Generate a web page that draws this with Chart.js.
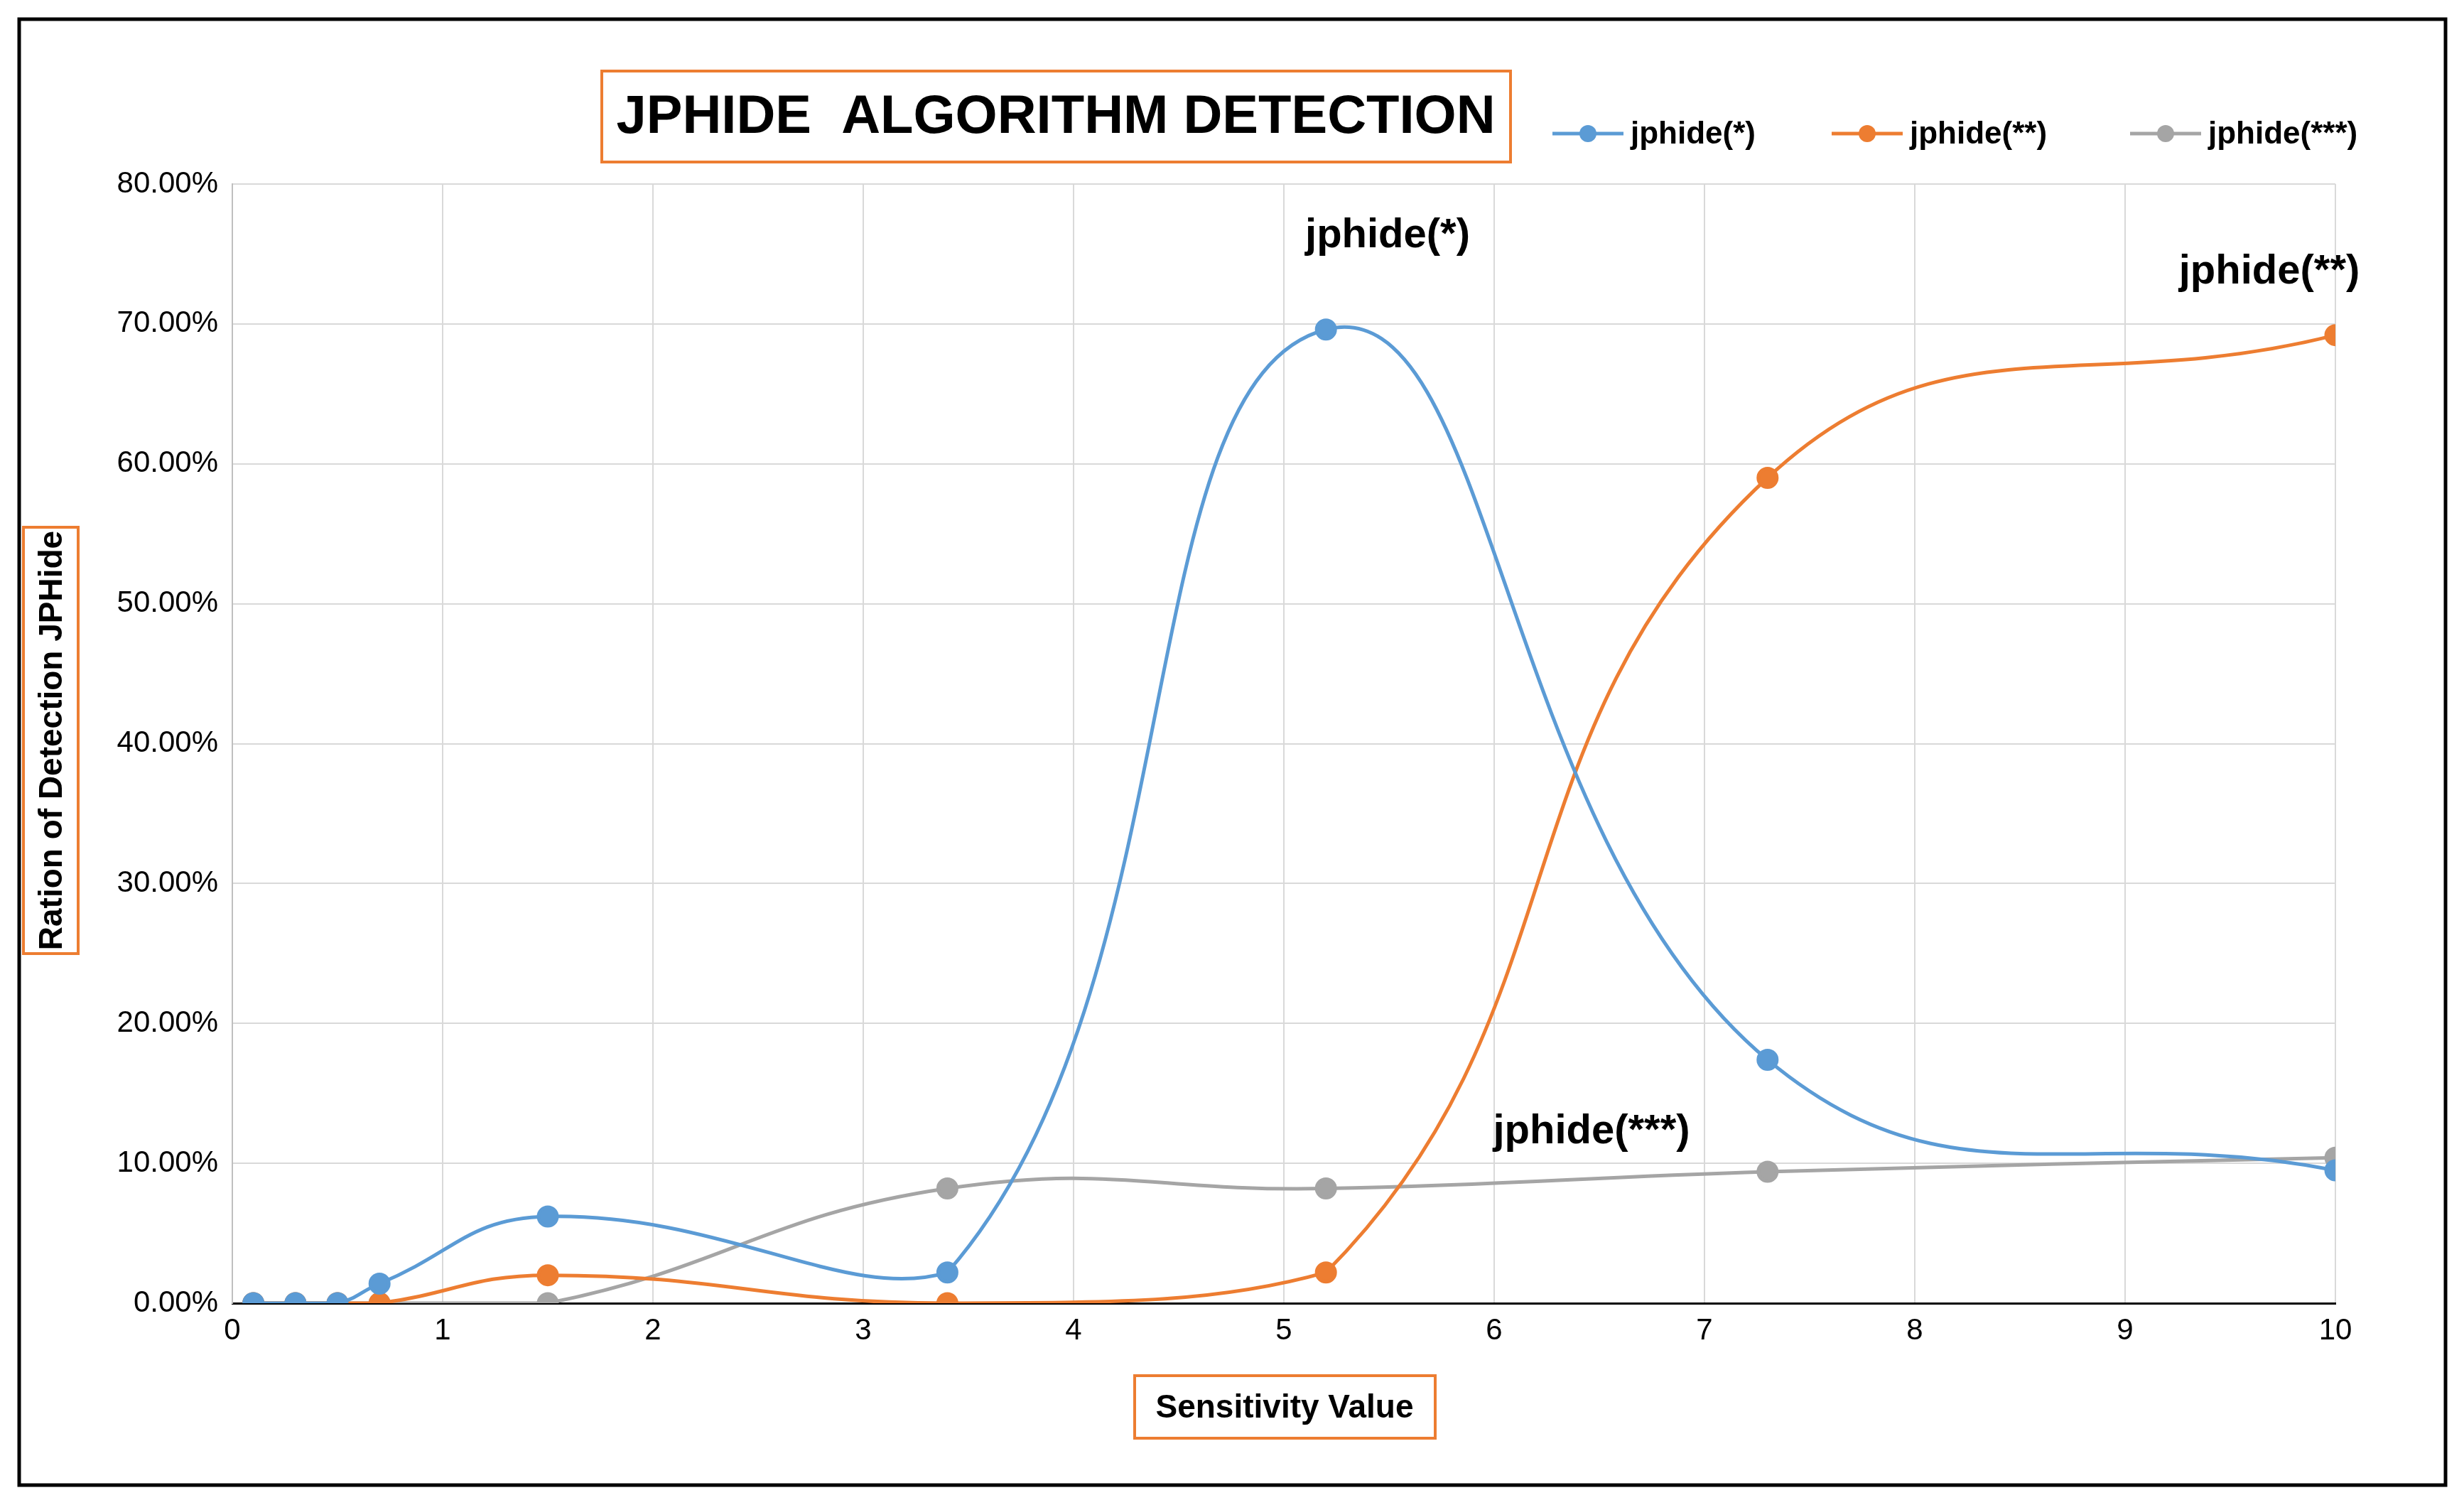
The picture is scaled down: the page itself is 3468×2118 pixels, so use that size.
<!DOCTYPE html>
<html>
<head>
<meta charset="utf-8">
<script src="https://cdn.jsdelivr.net/npm/chart.js@4.4.0/dist/chart.umd.min.js"></script>
<style>
  html, body { margin: 0; padding: 0; background: #fff; }
  #wrap { width: 3468px; height: 2118px; position: relative; }
</style>
</head>
<body>
<div id="wrap"><canvas id="grafico" width="3468" height="2118"></canvas></div>
<script>
// Datos del gráfico
const sensibilidad = [0.1, 0.3, 0.5, 0.7, 1.5, 3.4, 5.2, 7.3, 10];
const jphide1 = [0, 0, 0, 0.014, 0.062, 0.022, 0.696, 0.174, 0.095];
const jphide2 = [0, 0, 0, 0, 0.020, 0, 0.022, 0.590, 0.692];
const jphide3 = [0, 0, 0, 0, 0, 0.082, 0.082, 0.094, 0.104];
const nombres = ['jphide(*)', 'jphide(**)', 'jphide(***)'];
const colores = ['#5b9bd5', '#ed7d31', '#a5a5a5'];
const FONT = '"Liberation Sans", Arial, sans-serif';

function serie(i, valores) {
  return {
    label: nombres[i],
    data: sensibilidad.map((x, k) => ({ x: x, y: valores[k] })),
    borderColor: colores[i],
    backgroundColor: colores[i],
    borderWidth: 5,
    pointRadius: 13,
    pointHoverRadius: 13,
    tension: 0.45,
    fill: false
  };
}

// Cajas, leyenda y etiquetas
const decoracion = {
  id: 'decoracion',
  afterDraw(chart) {
    const c = chart.ctx;
    c.save();
    // borde exterior
    c.strokeStyle = '#000'; c.lineWidth = 5;
    c.strokeRect(27, 27, 3415, 2063);
    // título
    c.strokeStyle = '#ed7d31'; c.lineWidth = 4;
    c.strokeRect(847, 100, 1279, 128);
    c.fillStyle = '#000'; c.textAlign = 'center'; c.textBaseline = 'middle';
    c.font = 'bold 76px ' + FONT;
    c.fillText('JPHIDE  ALGORITHM DETECTION', 1486, 166);
    // leyenda
    c.font = 'bold 44px ' + FONT; c.textAlign = 'left';
    const lx = [2185, 2578, 2998];
    for (let i = 0; i < 3; i++) {
      c.strokeStyle = colores[i]; c.lineWidth = 5;
      c.beginPath(); c.moveTo(lx[i], 188); c.lineTo(lx[i] + 100, 188); c.stroke();
      c.fillStyle = colores[i];
      c.beginPath(); c.arc(lx[i] + 50, 188, 12, 0, Math.PI * 2); c.fill();
      c.fillStyle = '#000';
      c.fillText(nombres[i], lx[i] + 110, 190);
    }
    // etiquetas de series
    c.font = 'bold 58px ' + FONT; c.textAlign = 'center';
    c.fillText('jphide(*)', 1953, 332);
    c.fillText('jphide(**)', 3194, 383);
    c.fillText('jphide(***)', 2240, 1593);
    // título eje x
    c.strokeStyle = '#ed7d31'; c.lineWidth = 4;
    c.strokeRect(1597, 1936, 423, 88);
    c.font = 'bold 46px ' + FONT;
    c.fillText('Sensitivity Value', 1808, 1982);
    // título eje y
    c.strokeRect(33, 742, 77, 600);
    c.translate(72, 1042); c.rotate(-Math.PI / 2);
    c.fillText('Ration of Detection JPHide', 0, 2);
    c.restore();
  }
};

const ctx = document.getElementById('grafico').getContext('2d');
const miGrafico = new Chart(ctx, {
  type: 'line',
  data: { datasets: [serie(0, jphide1), serie(1, jphide2), serie(2, jphide3)] },
  options: {
    responsive: false,
    animation: false,
    devicePixelRatio: 1,
    clip: 0,
    layout: { padding: { top: 259, right: 181, left: 0, bottom: 0 } },
    plugins: { legend: { display: false }, title: { display: false }, tooltip: { enabled: false } },
    scales: {
      x: {
        type: 'linear', min: 0, max: 10,
        ticks: { stepSize: 1, color: '#000', font: { size: 42, family: FONT }, padding: 14 },
        grid: { color: '#d9d9d9', lineWidth: 2, drawTicks: false },
        border: { color: '#000', width: 3 },
        afterFit(s) { s.height = 284; }
      },
      y: {
        min: 0, max: 0.8,
        ticks: { stepSize: 0.1, color: '#000', font: { size: 42, family: FONT }, padding: 20,
          callback: v => (v * 100).toFixed(2) + '%' },
        grid: { color: '#d9d9d9', lineWidth: 2, drawTicks: false },
        border: { color: '#bfbfbf', width: 2 },
        afterFit(s) { s.width = 327; }
      }
    }
  },
  plugins: [decoracion]
});
</script>
</body>
</html>
